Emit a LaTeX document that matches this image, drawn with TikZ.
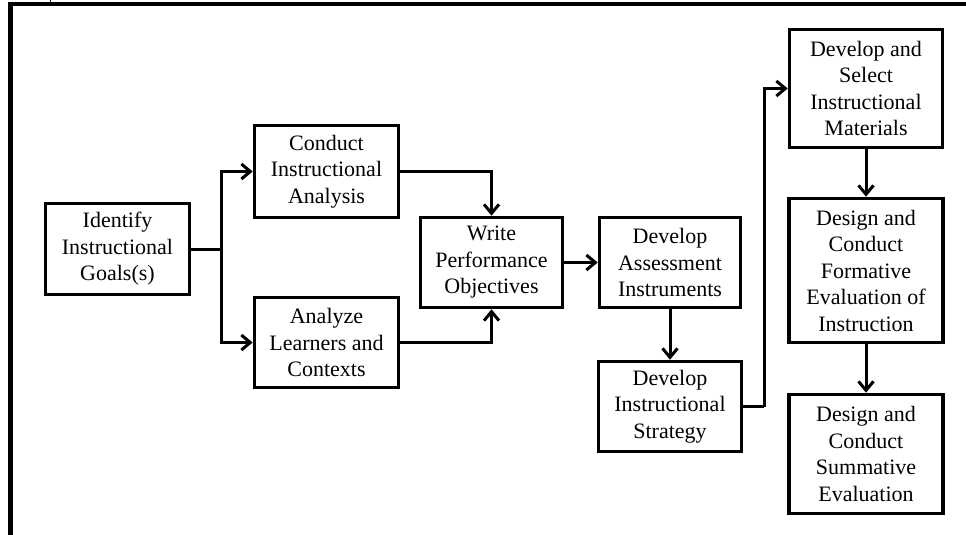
\documentclass[tikz,border=0pt]{standalone}
\usepackage{fontspec}
\setmainfont{Liberation Serif}
\usetikzlibrary{arrows.meta}
\begin{document}
\begin{tikzpicture}[x=1pt,y=-1pt,
  stepbox/.style={draw=black,line width=3.6pt,align=center,inner sep=0pt,
    font=\fontsize{22}{26.5}\selectfont},
  arr/.style={line width=3pt,-{Straight Barb[length=9pt,width=15pt,line width=3pt]}},
  conn/.style={line width=3pt}]
\useasboundingbox (0,0) rectangle (966,535);
% frame
\draw[line width=4.5pt] (966,4) -- (10.5,4) -- (10.5,535);
\draw[line width=1pt] (50,0) -- (50,2.5);
% boxes
\node[stepbox,minimum width=144pt,minimum height=91pt] (ident) at (117.5,249) {Identify\\Instructional\\Goals(s)};
\node[stepbox,minimum width=144pt,minimum height=92pt] (conduct) at (326.5,171.5) {Conduct\\Instructional\\Analysis};
\node[stepbox,minimum width=144pt,minimum height=90pt] (analyze) at (326.5,342.5) {Analyze\\Learners and\\Contexts};
\node[stepbox,minimum width=142pt,minimum height=90pt] (write) at (491.5,262.5) {Write\\Performance\\Objectives};
\node[stepbox,minimum width=141pt,minimum height=90pt] (assess) at (670,262.5) {Develop\\Assessment\\Instruments};
\node[stepbox,minimum width=143pt,minimum height=90pt] (strategy) at (670,406.5) {Develop\\Instructional\\Strategy};
\node[stepbox,minimum width=153pt,minimum height=118pt] (materials) at (866,88.5) {Develop and\\Select\\Instructional\\Materials};
\node[stepbox,minimum width=154pt,minimum height=144pt] (formative) at (866,270.5) {Design and\\Conduct\\Formative\\Evaluation of\\Instruction};
\node[stepbox,minimum width=154pt,minimum height=119pt] (summative) at (866,454) {Design and\\Conduct\\Summative\\Evaluation};
% connectors
\draw[conn] (ident.east) -- ++(30,0) coordinate (br);
\draw[arr] (br) |- (conduct.west);
\draw[arr] (br) |- (analyze.west);
\draw[arr] (conduct.east) -| (write.north);
\draw[arr] (analyze.east) -| (write.south);
\draw[arr] (write.east) -- (assess.west);
\draw[arr] (assess.south) -- (strategy.north);
\draw[conn] (strategy.east) -- ++(21,0) coordinate (up);
\draw[arr] (up) |- (materials.west);
\draw[arr] (materials.south) -- (formative.north);
\draw[arr] (formative.south) -- (summative.north);
\end{tikzpicture}
\end{document}
